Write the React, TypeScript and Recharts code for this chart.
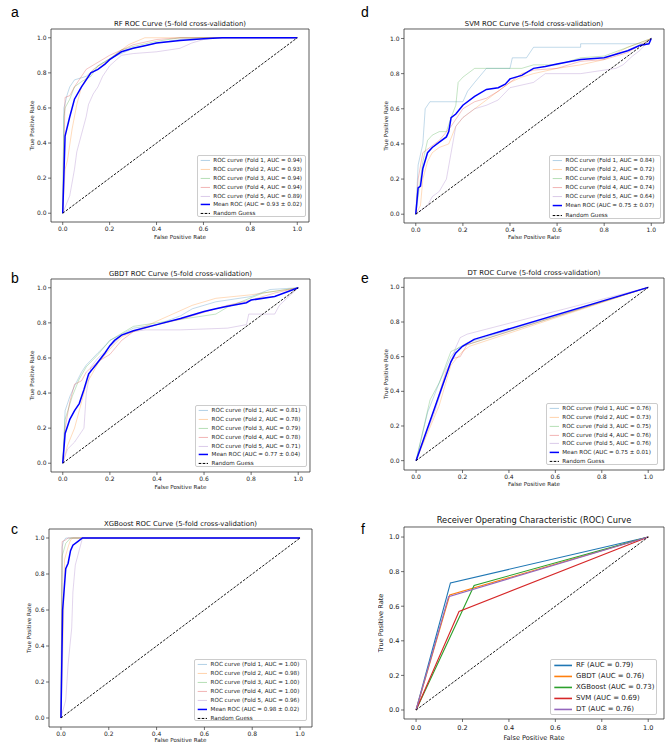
import { LineChart, Line, XAxis, YAxis, ReferenceArea } from 'recharts'

const FONT = '"DejaVu Sans", sans-serif'
const TICKS = [0, 0.2, 0.4, 0.6, 0.8, 1.0]

// tab10
const BLUE = '#1f77b4'
const ORANGE = '#ff7f0e'
const GREEN = '#2ca02c'
const RED = '#d62728'
const PURPLE = '#9467bd'
const FOLD_COLORS = [BLUE, ORANGE, GREEN, RED, PURPLE]

type Pt = [number, number]

const DIAG: Pt[] = [[0, 0], [1, 1]]

// RF
const RF_F1: Pt[] = [[0, 0], [0.005, 0.6], [0.02, 0.68], [0.03, 0.72], [0.05, 0.76], [0.1, 0.78], [0.15, 0.84], [0.2, 0.88], [0.3, 0.94], [0.4, 0.97], [0.5, 0.99], [0.6, 1], [1, 1]]
const RF_F2: Pt[] = [[0, 0], [0.01, 0.25], [0.02, 0.3], [0.04, 0.48], [0.06, 0.62], [0.08, 0.72], [0.1, 0.77], [0.13, 0.82], [0.18, 0.86], [0.22, 0.9], [0.28, 0.96], [0.35, 1], [1, 1]]
const RF_F3: Pt[] = [[0, 0], [0.005, 0.55], [0.01, 0.6], [0.03, 0.65], [0.05, 0.72], [0.08, 0.75], [0.12, 0.78], [0.15, 0.84], [0.2, 0.88], [0.25, 0.93], [0.3, 0.95], [0.4, 0.98], [0.5, 1], [1, 1]]
const RF_F4: Pt[] = [[0, 0], [0.01, 0.66], [0.03, 0.67], [0.05, 0.72], [0.1, 0.82], [0.15, 0.86], [0.2, 0.9], [0.3, 0.96], [0.4, 0.99], [0.5, 1], [1, 1]]
const RF_F5: Pt[] = [[0, 0], [0.03, 0.1], [0.05, 0.25], [0.06, 0.35], [0.08, 0.45], [0.1, 0.55], [0.11, 0.62], [0.13, 0.68], [0.15, 0.72], [0.17, 0.78], [0.2, 0.84], [0.25, 0.9], [0.3, 0.91], [0.4, 0.92], [0.5, 0.94], [0.55, 0.97], [0.6, 0.99], [0.65, 1], [1, 1]]
const RF_MEAN: Pt[] = [[0, 0], [0.01, 0.44], [0.03, 0.55], [0.05, 0.65], [0.08, 0.72], [0.1, 0.76], [0.12, 0.8], [0.15, 0.82], [0.18, 0.85], [0.2, 0.875], [0.25, 0.92], [0.3, 0.94], [0.35, 0.955], [0.4, 0.97], [0.5, 0.985], [0.6, 0.995], [0.68, 1], [1, 1]]

// GBDT
const GB_F1: Pt[] = [[0, 0], [0.01, 0.3], [0.03, 0.38], [0.05, 0.44], [0.08, 0.52], [0.1, 0.56], [0.15, 0.63], [0.18, 0.67], [0.2, 0.7], [0.3, 0.77], [0.4, 0.79], [0.5, 0.84], [0.55, 0.88], [0.65, 0.92], [0.8, 0.95], [0.88, 0.99], [1, 1]]
const GB_F2: Pt[] = [[0, 0], [0.02, 0.1], [0.05, 0.2], [0.08, 0.35], [0.1, 0.45], [0.15, 0.57], [0.2, 0.65], [0.25, 0.72], [0.35, 0.78], [0.45, 0.84], [0.55, 0.9], [0.65, 0.94], [0.8, 0.96], [0.9, 0.98], [1, 1]]
const GB_F3: Pt[] = [[0, 0], [0.01, 0.25], [0.04, 0.38], [0.07, 0.48], [0.1, 0.55], [0.15, 0.62], [0.2, 0.7], [0.3, 0.78], [0.4, 0.8], [0.5, 0.82], [0.6, 0.84], [0.65, 0.85], [0.7, 0.89], [0.85, 0.97], [1, 1]]
const GB_F4: Pt[] = [[0, 0], [0.01, 0.2], [0.03, 0.35], [0.05, 0.45], [0.08, 0.47], [0.1, 0.52], [0.15, 0.58], [0.2, 0.62], [0.25, 0.7], [0.3, 0.75], [0.4, 0.79], [0.5, 0.82], [0.6, 0.86], [0.7, 0.9], [0.8, 0.93], [0.9, 0.97], [1, 1]]
const GB_F5: Pt[] = [[0, 0], [0.02, 0.08], [0.05, 0.12], [0.08, 0.18], [0.09, 0.2], [0.1, 0.4], [0.12, 0.55], [0.15, 0.6], [0.2, 0.66], [0.25, 0.73], [0.3, 0.75], [0.35, 0.76], [0.5, 0.76], [0.7, 0.77], [0.78, 0.79], [0.79, 0.85], [0.9, 0.85], [0.92, 0.9], [1, 1]]
const GB_MEAN: Pt[] = [[0, 0], [0.01, 0.17], [0.03, 0.25], [0.05, 0.3], [0.07, 0.34], [0.09, 0.42], [0.11, 0.51], [0.14, 0.56], [0.18, 0.63], [0.2, 0.67], [0.22, 0.7], [0.25, 0.73], [0.3, 0.755], [0.4, 0.79], [0.5, 0.825], [0.55, 0.845], [0.6, 0.865], [0.65, 0.88], [0.7, 0.895], [0.78, 0.915], [0.8, 0.93], [0.9, 0.95], [1, 1]]

// XGBoost
const XG_F1: Pt[] = [[0, 0], [0.005, 0.95], [0.01, 0.98], [0.02, 1], [1, 1]]
const XG_F2: Pt[] = [[0, 0], [0.01, 0.5], [0.015, 0.88], [0.03, 0.95], [0.04, 0.99], [0.05, 1], [1, 1]]
const XG_F3: Pt[] = [[0, 0], [0.005, 0.9], [0.02, 0.97], [0.04, 1], [1, 1]]
const XG_F4: Pt[] = [[0, 0], [0.005, 0.98], [0.02, 0.99], [0.03, 1], [1, 1]]
const XG_F5: Pt[] = [[0, 0], [0.02, 0.1], [0.03, 0.3], [0.045, 0.5], [0.05, 0.7], [0.06, 0.85], [0.08, 0.95], [0.09, 1], [1, 1]]
const XG_MEAN: Pt[] = [[0, 0], [0.007, 0.6], [0.02, 0.83], [0.03, 0.86], [0.04, 0.93], [0.05, 0.96], [0.07, 0.98], [0.09, 1], [1, 1]]

// SVM
const SV_F1: Pt[] = [[0, 0], [0.01, 0.28], [0.03, 0.4], [0.04, 0.6], [0.06, 0.64], [0.2, 0.64], [0.22, 0.7], [0.25, 0.75], [0.3, 0.83], [0.4, 0.83], [0.41, 0.89], [0.47, 0.89], [0.5, 0.95], [0.7, 0.95], [0.7, 0.97], [0.97, 0.97], [1, 1]]
const SV_F2: Pt[] = [[0, 0], [0.02, 0.05], [0.03, 0.2], [0.05, 0.3], [0.07, 0.35], [0.1, 0.38], [0.14, 0.4], [0.17, 0.5], [0.2, 0.55], [0.25, 0.6], [0.3, 0.65], [0.35, 0.7], [0.4, 0.75], [0.45, 0.78], [0.5, 0.8], [0.6, 0.83], [0.7, 0.85], [0.8, 0.88], [0.9, 0.95], [1, 1]]
const SV_F3: Pt[] = [[0, 0], [0.03, 0.3], [0.05, 0.42], [0.07, 0.45], [0.1, 0.47], [0.13, 0.47], [0.15, 0.55], [0.17, 0.62], [0.18, 0.75], [0.2, 0.78], [0.25, 0.83], [0.45, 0.83], [0.5, 0.85], [0.6, 0.85], [0.65, 0.87], [0.7, 0.89], [0.8, 0.9], [0.9, 0.95], [1, 1]]
const SV_F4: Pt[] = [[0, 0], [0.01, 0.2], [0.03, 0.35], [0.05, 0.37], [0.1, 0.42], [0.15, 0.5], [0.2, 0.6], [0.25, 0.64], [0.3, 0.66], [0.35, 0.7], [0.4, 0.75], [0.45, 0.8], [0.5, 0.82], [0.6, 0.83], [0.7, 0.87], [0.8, 0.88], [0.9, 0.92], [1, 1]]
const SV_F5: Pt[] = [[0, 0], [0.05, 0.05], [0.07, 0.1], [0.1, 0.13], [0.13, 0.2], [0.15, 0.35], [0.17, 0.5], [0.2, 0.55], [0.25, 0.6], [0.3, 0.62], [0.35, 0.65], [0.4, 0.72], [0.5, 0.75], [0.55, 0.8], [0.7, 0.8], [0.8, 0.82], [0.85, 0.83], [0.88, 0.85], [0.92, 0.9], [0.95, 0.93], [1, 1]]
const SV_MEAN: Pt[] = [[0, 0], [0.01, 0.15], [0.02, 0.16], [0.03, 0.26], [0.05, 0.35], [0.07, 0.38], [0.1, 0.41], [0.13, 0.44], [0.14, 0.47], [0.15, 0.55], [0.17, 0.57], [0.2, 0.62], [0.25, 0.67], [0.3, 0.71], [0.35, 0.72], [0.38, 0.74], [0.4, 0.77], [0.45, 0.79], [0.5, 0.83], [0.55, 0.84], [0.6, 0.855], [0.7, 0.88], [0.8, 0.89], [0.85, 0.91], [0.9, 0.93], [0.95, 0.96], [0.99, 0.97], [1, 1]]

// DT
const DT_F1: Pt[] = [[0, 0], [0.05, 0.28], [0.1, 0.45], [0.15, 0.6], [0.18, 0.65], [0.22, 0.68], [1, 1]]
const DT_F2: Pt[] = [[0, 0], [0.1, 0.32], [0.15, 0.55], [0.2, 0.63], [0.23, 0.66], [1, 1]]
const DT_F3: Pt[] = [[0, 0], [0.06, 0.35], [0.1, 0.45], [0.15, 0.63], [0.2, 0.66], [1, 1]]
const DT_F4: Pt[] = [[0, 0], [0.08, 0.3], [0.13, 0.52], [0.16, 0.59], [0.19, 0.6], [0.22, 0.67], [1, 1]]
const DT_F5: Pt[] = [[0, 0], [0.08, 0.28], [0.12, 0.45], [0.17, 0.65], [0.19, 0.71], [0.22, 0.73], [1, 1]]
const DT_MEAN: Pt[] = [[0, 0], [0.05, 0.19], [0.1, 0.38], [0.15, 0.57], [0.17, 0.62], [0.2, 0.66], [0.25, 0.7], [0.3, 0.72], [1, 1]]

// Summary (f)
const SUM_NAMES = ['RF', 'GBDT', 'XGBoost', 'SVM', 'DT']
const SUM_AUC = ['0.79', '0.76', '0.73', '0.69', '0.76']
const SUM_RF: Pt[] = [[0, 0], [0.148, 0.735], [1, 1]]
const SUM_GBDT: Pt[] = [[0, 0], [0.145, 0.665], [1, 1]]
const SUM_XGB: Pt[] = [[0, 0], [0.25, 0.72], [1, 1]]
const SUM_SVM: Pt[] = [[0, 0], [0.185, 0.57], [1, 1]]
const SUM_DT: Pt[] = [[0, 0], [0.14, 0.655], [1, 1]]

const pts = (a: Pt[]) => a.map(([x, y]) => ({ x, y }))
const fmt = (v: number) => v.toFixed(1)

type Series = { data: Pt[]; color: string; width: number; opacity: number; dash?: string; label?: string }

function foldSeries(folds: Pt[][], aucs: string[], mean: Pt[], meanLabel: string): Series[] {
  const s: Series[] = folds.map((d, i) => ({
    data: d, color: FOLD_COLORS[i], width: 0.8, opacity: 0.35,
    label: `ROC curve (Fold ${i + 1}, AUC = ${aucs[i]})`,
  }))
  s.push({ data: mean, color: '#0000ff', width: 1.5, opacity: 1, label: meanLabel })
  s.push({ data: DIAG, color: '#000', width: 0.9, opacity: 1, dash: '2.6 1.4', label: 'Random Guess' })
  return s
}

type Cfg = {
  box: { l: number; t: number; r: number; b: number }
  xDom: [number, number]
  yDom: [number, number]
  title: string
  titleY: number
  titleFs: number
  letter: string
  letterX: number
  letterY: number
  tickFs: number
  labFs: number
  xH: number
  yLabOff: number
  tickMargin: number
  series: Series[]
  legend: { l: number; t: number; w: number; h: number; rowH: number; hx1: number; hx2: number; textX: number; fs: number; lw: number }
}

const PANELS: Cfg[] = [
  {
    box: { l: 51, t: 29, r: 309, b: 222 }, xDom: [-0.05, 1.05], yDom: [-0.05, 1.05],
    title: 'RF ROC Curve (5-fold cross-validation)', titleY: 24, titleFs: 6.9,
    letter: 'a', letterX: 11, letterY: 18, tickFs: 6, labFs: 5.6, xH: 17, yLabOff: 18.7, tickMargin: 2,
    series: foldSeries([RF_F1, RF_F2, RF_F3, RF_F4, RF_F5], ['0.94', '0.93', '0.94', '0.94', '0.89'], RF_MEAN, 'Mean ROC (AUC = 0.93 ± 0.02)'),
    legend: { l: 196.7, t: 155, w: 109.3, h: 62.3, rowH: 8.9, hx1: 2.7, hx2: 12, textX: 15.6, fs: 5.6, lw: 1 },
  },
  {
    box: { l: 51, t: 279, r: 310, b: 472 }, xDom: [-0.05, 1.05], yDom: [-0.05, 1.05],
    title: 'GBDT ROC Curve (5-fold cross-validation)', titleY: 274, titleFs: 6.9,
    letter: 'b', letterX: 11, letterY: 284, tickFs: 6, labFs: 5.6, xH: 17.3, yLabOff: 18.7, tickMargin: 2,
    series: foldSeries([GB_F1, GB_F2, GB_F3, GB_F4, GB_F5], ['0.81', '0.78', '0.79', '0.78', '0.71'], GB_MEAN, 'Mean ROC (AUC = 0.77 ± 0.04)'),
    legend: { l: 195, t: 405, w: 111.7, h: 62.3, rowH: 8.9, hx1: 2.7, hx2: 12, textX: 15.6, fs: 5.6, lw: 1 },
  },
  {
    box: { l: 49, t: 529, r: 312, b: 727 }, xDom: [-0.05, 1.05], yDom: [-0.05, 1.05],
    title: 'XGBoost ROC Curve (5-fold cross-validation)', titleY: 524, titleFs: 6.9,
    letter: 'c', letterX: 11, letterY: 535, tickFs: 6, labFs: 5.6, xH: 15, yLabOff: 19.7, tickMargin: 2,
    series: foldSeries([XG_F1, XG_F2, XG_F3, XG_F4, XG_F5], ['1.00', '0.98', '1.00', '1.00', '0.96'], XG_MEAN, 'Mean ROC (AUC = 0.98 ± 0.02)'),
    legend: { l: 194, t: 659.3, w: 113.3, h: 62, rowH: 8.9, hx1: 2.7, hx2: 12, textX: 15.6, fs: 5.6, lw: 1 },
  },
  {
    box: { l: 404, t: 29, r: 664, b: 223 }, xDom: [-0.05, 1.054], yDom: [-0.05, 1.054],
    title: 'SVM ROC Curve (5-fold cross-validation)', titleY: 24, titleFs: 6.9,
    letter: 'd', letterX: 361, letterY: 18, tickFs: 6, labFs: 5.6, xH: 16.3, yLabOff: 18.3, tickMargin: 2,
    series: foldSeries([SV_F1, SV_F2, SV_F3, SV_F4, SV_F5], ['0.84', '0.72', '0.79', '0.74', '0.64'], SV_MEAN, 'Mean ROC (AUC = 0.75 ± 0.07)'),
    legend: { l: 549, t: 155, w: 112, h: 64, rowH: 9.1, hx1: 2.7, hx2: 12, textX: 15.6, fs: 5.6, lw: 1 },
  },
  {
    box: { l: 404, t: 278, r: 664, b: 470 }, xDom: [-0.052, 1.068], yDom: [-0.054, 1.054],
    title: 'DT ROC Curve (5-fold cross-validation)', titleY: 272.7, titleFs: 6.9,
    letter: 'e', letterX: 361, letterY: 284, tickFs: 6, labFs: 5.6, xH: 16, yLabOff: 18.3, tickMargin: 2,
    series: foldSeries([DT_F1, DT_F2, DT_F3, DT_F4, DT_F5], ['0.76', '0.73', '0.75', '0.76', '0.76'], DT_MEAN, 'Mean ROC (AUC = 0.75 ± 0.01)'),
    legend: { l: 545.7, t: 403.3, w: 112, h: 61.7, rowH: 8.8, hx1: 2.7, hx2: 12, textX: 15.6, fs: 5.6, lw: 1 },
  },
  {
    box: { l: 404, t: 527, r: 664, b: 719 }, xDom: [-0.052, 1.068], yDom: [-0.052, 1.058],
    title: 'Receiver Operating Characteristic (ROC) Curve', titleY: 520, titleFs: 8.3,
    letter: 'f', letterX: 361, letterY: 535, tickFs: 6.6, labFs: 6.6, xH: 20.7, yLabOff: 23.3, tickMargin: 3,
    series: [
      ...[SUM_RF, SUM_GBDT, SUM_XGB, SUM_SVM, SUM_DT].map((d, i) => ({
        data: d, color: FOLD_COLORS[i], width: 1.1, opacity: 1,
        label: `${SUM_NAMES[i]} (AUC = ${SUM_AUC[i]})`,
      })),
      { data: DIAG, color: '#000', width: 0.9, opacity: 1, dash: '2.6 1.4' },
    ],
    legend: { l: 550, t: 659.3, w: 106.7, h: 55.7, rowH: 10.9, hx1: 3.3, hx2: 21, textX: 25, fs: 7, lw: 1.6 },
  },
]

function Panel({ cfg }: { cfg: Cfg }) {
  const { box, xDom, yDom, legend } = cfg
  const yW = 26
  const pad = 3
  const bottomPad = 4
  const w = yW + box.r - box.l + pad
  const h = pad + box.b - box.t + cfg.xH + bottomPad
  const tick = { fontSize: cfg.tickFs, fill: '#222', fontFamily: FONT }
  const labStyle = { fontSize: cfg.labFs, fill: '#222', fontFamily: FONT }
  const items = cfg.series.filter((s) => s.label)
  return (
    <>
      <div style={{ position: 'absolute', left: box.l - yW, top: box.t - pad }}>
        <LineChart width={w} height={h} margin={{ top: pad, right: pad, left: 0, bottom: bottomPad }}>
          <XAxis
            type="number" dataKey="x" domain={xDom} ticks={TICKS} allowDataOverflow
            tickFormatter={fmt} tick={tick} tickSize={3} tickMargin={cfg.tickMargin}
            axisLine={false} tickLine={{ stroke: '#333', strokeWidth: 0.7 }} height={cfg.xH}
            label={{ value: 'False Positive Rate', position: 'insideBottom', offset: 0, style: labStyle }}
          />
          <YAxis
            type="number" dataKey="y" domain={yDom} ticks={TICKS} allowDataOverflow
            tickFormatter={fmt} tick={tick} tickSize={3} tickMargin={1.5}
            axisLine={false} tickLine={{ stroke: '#333', strokeWidth: 0.7 }} width={yW}
            label={{ value: 'True Positive Rate', angle: -90, position: 'insideLeft', offset: yW - cfg.yLabOff, style: { ...labStyle, textAnchor: 'middle' } }}
          />
          <ReferenceArea
            x1={xDom[0]} x2={xDom[1]} y1={yDom[0]} y2={yDom[1]} ifOverflow="visible"
            fill="none" fillOpacity={0} stroke="#333" strokeWidth={0.8}
          />
          {cfg.series.map((s, i) => (
            <Line
              key={i} data={pts(s.data)} dataKey="y" type="linear" dot={false} activeDot={false}
              stroke={s.color} strokeOpacity={s.opacity} strokeWidth={s.width}
              strokeDasharray={s.dash} isAnimationActive={false}
            />
          ))}
        </LineChart>
      </div>
      <div
        style={{
          position: 'absolute', left: box.l, width: box.r - box.l, top: cfg.titleY,
          transform: 'translateY(-50%)', textAlign: 'center', fontFamily: FONT,
          fontSize: cfg.titleFs, lineHeight: 1, color: '#111', whiteSpace: 'nowrap',
        }}
      >
        {cfg.title}
      </div>
      <div
        style={{
          position: 'absolute', left: cfg.letterX, top: cfg.letterY - 13,
          fontFamily: '"Liberation Sans", Arial, sans-serif', fontSize: 14, lineHeight: '14px', color: '#000',
        }}
      >
        {cfg.letter}
      </div>
      <div
        style={{
          position: 'absolute', left: legend.l, top: legend.t, width: legend.w, height: legend.h,
          boxSizing: 'border-box', border: '0.8px solid #cccccc', borderRadius: 2,
          background: 'rgba(255,255,255,0.8)', paddingTop: (legend.h - legend.rowH * items.length) / 2 - 0.8,
        }}
      >
        {items.map((s, i) => (
          <div key={i} style={{ position: 'relative', height: legend.rowH }}>
            <svg width={legend.hx2 + 1} height={legend.rowH} style={{ position: 'absolute', left: 0, top: 0 }}>
              <line
                x1={legend.hx1} x2={legend.hx2} y1={legend.rowH / 2} y2={legend.rowH / 2}
                stroke={s.color} strokeOpacity={s.opacity}
                strokeWidth={s.opacity < 1 ? legend.lw : Math.max(s.width, legend.lw)}
                strokeDasharray={s.dash}
              />
            </svg>
            <span
              style={{
                position: 'absolute', left: legend.textX, top: 0, lineHeight: `${legend.rowH}px`,
                fontFamily: FONT, fontSize: legend.fs, color: '#222', whiteSpace: 'nowrap',
              }}
            >
              {s.label}
            </span>
          </div>
        ))}
      </div>
    </>
  )
}

export default function App() {
  return (
    <div style={{ position: 'absolute', left: 0, top: 0, width: 669, height: 750, background: '#fff', overflow: 'hidden' }}>
      {PANELS.map((p, i) => (
        <Panel key={i} cfg={p} />
      ))}
    </div>
  )
}
